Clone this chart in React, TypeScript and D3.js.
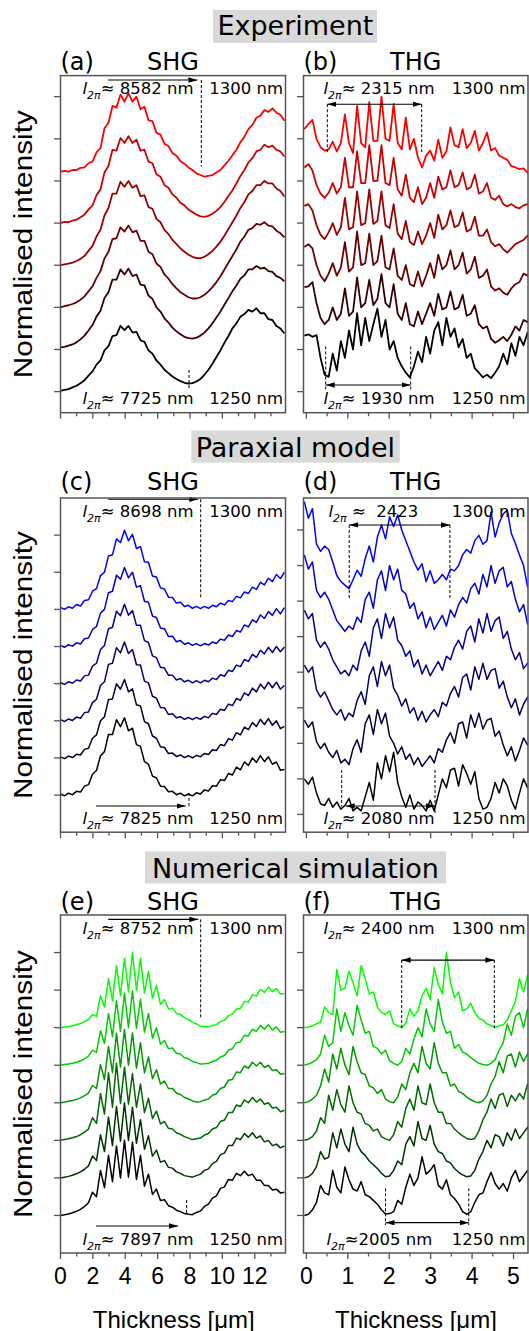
import React from "react";
import * as d3 from "d3";

// ---- sampling grids (µm) ----
const SHG_X0 = 0;
const SHG_DX = 0.247;
const THG_X0 = -0.05;
const THG_DX = 0.098;

const wavelengths = [1250, 1260, 1270, 1280, 1290, 1300];

// curve baselines (stacking offsets, normalised units) 1250 -> 1300
const stackOffsets = [0, 1, 2, 3, 4, 5];
const paraxThgOffsets = [0, 1.25, 2.5, 3.75, 5, 6.25];

// ---- (a) Experiment SHG, 1250..1300 nm ----
const expShg = [
  [0.02,0.04,0.06,0.1,0.14,0.2,0.27,0.38,0.48,0.64,0.74,0.98,1.08,1.32,1.34,1.56,1.46,1.56,1.4,1.42,1.22,1.18,0.98,0.9,0.74,0.64,0.52,0.44,0.36,0.3,0.25,0.21,0.19,0.2,0.24,0.3,0.4,0.52,0.66,0.82,0.98,1.16,1.32,1.5,1.62,1.78,1.84,1.94,1.9,1.98,1.86,1.86,1.72,1.7,1.56,1.5,1.38],
  [0.05,0.06,0.09,0.12,0.17,0.24,0.33,0.45,0.58,0.78,0.92,1.22,1.36,1.66,1.66,1.9,1.78,1.92,1.74,1.78,1.54,1.52,1.28,1.2,1.0,0.9,0.74,0.64,0.52,0.43,0.36,0.3,0.27,0.26,0.28,0.33,0.4,0.5,0.62,0.76,0.9,1.06,1.22,1.38,1.52,1.68,1.76,1.9,1.9,1.98,1.92,1.94,1.86,1.84,1.74,1.7,1.62],
  [0.0,0.03,0.05,0.08,0.12,0.18,0.26,0.38,0.5,0.7,0.86,1.16,1.32,1.62,1.64,1.9,1.8,1.94,1.78,1.82,1.58,1.58,1.32,1.26,1.04,0.96,0.78,0.68,0.55,0.45,0.36,0.3,0.24,0.21,0.21,0.24,0.3,0.38,0.48,0.6,0.74,0.9,1.06,1.22,1.38,1.56,1.68,1.84,1.88,1.98,1.96,2.02,1.94,1.92,1.82,1.76,1.66],
  [0.0,0.02,0.04,0.06,0.1,0.15,0.22,0.34,0.46,0.68,0.84,1.18,1.36,1.7,1.7,1.98,1.86,2.0,1.84,1.9,1.64,1.66,1.38,1.34,1.1,1.02,0.84,0.74,0.6,0.5,0.4,0.32,0.25,0.2,0.17,0.17,0.2,0.26,0.34,0.44,0.56,0.7,0.86,1.02,1.18,1.36,1.5,1.68,1.76,1.9,1.9,2.0,1.94,1.94,1.82,1.76,1.63],
  [0.0,0.03,0.02,0.06,0.08,0.14,0.2,0.32,0.42,0.66,0.8,1.2,1.36,1.74,1.72,2.02,1.9,2.06,1.9,1.98,1.72,1.74,1.46,1.42,1.16,1.1,0.9,0.84,0.68,0.6,0.48,0.42,0.32,0.26,0.2,0.16,0.15,0.17,0.22,0.29,0.38,0.5,0.64,0.78,0.94,1.12,1.26,1.44,1.54,1.7,1.74,1.86,1.8,1.84,1.74,1.7,1.58],
  [0.22,0.24,0.22,0.26,0.26,0.31,0.32,0.42,0.46,0.68,0.78,1.25,1.38,1.78,1.74,2.05,1.88,2.08,1.88,2.0,1.7,1.76,1.44,1.42,1.14,1.1,0.88,0.83,0.66,0.6,0.47,0.41,0.32,0.26,0.18,0.14,0.1,0.12,0.14,0.2,0.26,0.37,0.48,0.61,0.74,0.92,1.05,1.23,1.33,1.5,1.55,1.68,1.64,1.72,1.62,1.57,1.43],
];

// ---- (b) Experiment THG ----
const expThg = [
  [1.33,1.36,1.3,1.34,0.8,0.4,0.35,0.9,0.5,1.2,0.8,1.45,1.0,1.86,1.1,1.75,1.2,1.6,1.97,1.3,1.7,1.0,1.2,0.8,0.6,0.45,0.34,0.6,0.95,0.7,1.3,0.9,1.45,1.65,1.1,1.75,1.3,1.5,1.05,1.25,0.8,0.9,0.55,0.45,0.34,0.4,0.32,0.45,0.6,0.9,0.65,1.15,0.85,1.3,1.1,1.4,1.37],
  [1.48,1.5,1.6,1.1,0.75,0.6,0.7,1.0,0.7,0.85,1.45,0.8,0.9,1.71,1.0,1.1,1.65,1.05,1.2,1.79,1.1,1.0,1.55,0.85,0.7,1.1,0.6,0.55,0.9,0.6,0.85,1.1,0.8,1.32,0.95,1.0,1.38,0.95,1.0,1.3,0.8,0.85,1.05,0.6,0.5,0.55,0.25,0.16,0.22,0.3,0.2,0.35,0.55,0.45,0.7,0.65,0.79],
  [1.43,1.5,1.4,1.0,0.75,0.62,0.8,1.05,0.75,0.95,1.55,0.85,0.95,1.8,1.0,1.05,1.75,1.0,1.1,1.7,0.95,0.9,1.4,0.75,0.65,1.0,0.55,0.5,0.85,0.5,0.75,1.05,0.7,1.25,0.9,1.0,1.35,0.9,1.0,1.3,0.8,0.9,1.2,0.7,0.75,0.9,0.5,0.4,0.45,0.35,0.3,0.45,0.55,0.6,0.8,0.75,0.9],
  [1.41,1.45,1.3,0.95,0.72,0.62,0.78,1.0,0.72,0.9,1.6,0.85,0.9,1.75,0.95,1.0,1.8,0.98,1.05,1.75,0.95,0.88,1.45,0.75,0.62,1.05,0.55,0.48,0.8,0.5,0.7,1.0,0.65,1.2,0.85,0.95,1.3,0.9,0.95,1.25,0.8,0.85,1.15,0.7,0.7,0.85,0.55,0.45,0.5,0.38,0.3,0.4,0.5,0.55,0.6,0.7,0.74],
  [1.32,1.4,1.25,0.9,0.7,0.6,0.72,0.95,0.7,0.85,1.55,0.85,0.85,1.7,0.95,0.95,1.85,1.0,1.0,1.85,0.95,0.9,1.55,0.8,0.65,1.15,0.6,0.5,0.85,0.45,0.6,0.95,0.6,1.1,0.8,0.85,1.25,0.85,0.9,1.2,0.8,0.85,1.15,0.7,0.75,0.95,0.6,0.55,0.65,0.45,0.4,0.45,0.38,0.35,0.42,0.45,0.45],
  [1.23,1.35,1.45,1.0,0.8,0.72,0.75,0.93,0.7,0.9,1.58,0.9,0.66,1.78,0.9,0.8,1.87,0.95,0.95,2.0,1.0,0.95,1.83,0.9,0.75,1.5,0.75,1.0,0.55,0.32,0.6,0.72,0.48,0.98,0.55,0.7,1.27,0.85,0.8,1.23,0.78,0.9,1.19,0.72,0.9,1.15,0.72,0.78,0.6,0.55,0.5,0.35,0.32,0.28,0.3,0.2,0.12],
];

// ---- (c) Paraxial model SHG ----
const parShg = [
  [0.03,-0.02,0.05,0.01,0.1,0.08,0.24,0.28,0.56,0.66,1.06,1.17,1.63,1.63,2.03,1.84,2.08,1.73,1.8,1.36,1.31,0.9,0.83,0.51,0.46,0.24,0.23,0.09,0.1,0.01,0.05,-0.02,0.03,-0.02,0.06,0.03,0.14,0.11,0.25,0.24,0.41,0.39,0.58,0.54,0.75,0.68,0.89,0.8,1.0,0.88,1.06,0.9,1.03,0.83,0.89,0.67,0.69],
  [0.03,-0.02,0.05,0.01,0.1,0.08,0.23,0.26,0.53,0.62,1.0,1.11,1.57,1.59,2.0,1.85,2.11,1.78,1.86,1.43,1.4,0.98,0.92,0.59,0.53,0.3,0.28,0.12,0.13,0.04,0.08,0.01,0.06,0.0,0.07,0.03,0.12,0.09,0.22,0.2,0.36,0.33,0.52,0.48,0.68,0.62,0.83,0.76,0.95,0.85,1.04,0.9,1.06,0.88,1.0,0.79,0.85],
  [0.03,-0.02,0.05,0.01,0.1,0.07,0.22,0.24,0.49,0.58,0.95,1.05,1.52,1.55,1.97,1.83,2.12,1.81,1.92,1.51,1.5,1.07,1.02,0.66,0.61,0.36,0.35,0.17,0.19,0.08,0.11,0.04,0.09,0.03,0.09,0.04,0.12,0.08,0.2,0.17,0.31,0.28,0.45,0.41,0.6,0.55,0.75,0.68,0.88,0.78,0.99,0.86,1.04,0.89,1.04,0.85,0.95],
  [0.03,-0.02,0.05,0.01,0.1,0.07,0.21,0.23,0.47,0.55,0.92,1.03,1.48,1.52,1.95,1.83,2.14,1.84,1.97,1.57,1.57,1.16,1.11,0.75,0.7,0.44,0.42,0.23,0.23,0.1,0.14,0.05,0.09,0.02,0.08,0.02,0.09,0.05,0.15,0.11,0.24,0.2,0.36,0.33,0.5,0.46,0.65,0.6,0.79,0.71,0.9,0.8,0.98,0.84,1.0,0.86,0.99],
  [0.03,-0.02,0.05,0.01,0.1,0.07,0.21,0.23,0.46,0.54,0.9,1.0,1.45,1.49,1.92,1.81,2.13,1.85,2.0,1.6,1.64,1.22,1.19,0.82,0.78,0.5,0.48,0.27,0.28,0.13,0.16,0.06,0.1,0.03,0.08,0.02,0.08,0.04,0.12,0.08,0.2,0.17,0.31,0.27,0.43,0.39,0.58,0.53,0.72,0.65,0.85,0.76,0.94,0.84,1.02,0.88,1.05],
  [0.05,0.0,0.07,0.03,0.13,0.09,0.24,0.26,0.49,0.56,0.91,1.0,1.44,1.47,1.9,1.8,2.13,1.85,2.02,1.64,1.69,1.28,1.27,0.9,0.87,0.58,0.55,0.33,0.32,0.17,0.19,0.08,0.11,0.03,0.08,0.02,0.08,0.03,0.11,0.07,0.17,0.12,0.24,0.21,0.35,0.31,0.47,0.43,0.6,0.54,0.73,0.66,0.84,0.75,0.94,0.83,1.0],
];

// ---- (d) Paraxial model THG ----
const parThg = [
  [1.0,0.85,1.05,0.6,0.3,0.25,0.45,0.2,0.35,0.15,0.25,0.45,0.1,0.2,0.1,0.5,0.9,0.4,1.45,1.0,1.65,1.2,1.75,0.9,0.5,0.2,0.55,0.15,0.35,0.25,0.1,0.4,0.1,0.55,1.0,0.75,1.25,1.3,0.8,1.4,1.15,0.85,1.2,0.45,0.15,0.2,0.45,0.9,0.6,1.0,0.8,0.4,0.15,0.6,1.0,0.75,0.85],
  [1.4,1.2,1.35,0.8,0.6,0.75,0.5,0.35,0.55,0.2,0.3,0.15,0.6,0.85,0.5,1.3,1.55,1.0,1.7,1.3,1.6,0.95,0.75,0.45,0.65,0.3,0.45,0.15,0.35,0.1,0.25,0.4,0.2,0.6,0.5,0.85,1.05,0.75,1.3,1.35,0.9,1.55,1.2,1.6,1.15,1.4,1.45,0.95,1.1,0.7,0.4,0.65,0.25,0.55,0.9,0.7,0.8],
  [1.7,1.5,1.65,1.0,0.8,0.95,0.7,0.45,0.3,0.45,0.15,0.35,0.25,0.7,0.95,0.6,1.4,1.65,1.1,1.8,1.4,1.7,1.05,0.85,0.55,0.75,0.35,0.5,0.15,0.4,0.1,0.3,0.45,0.25,0.65,0.55,0.9,1.1,0.8,1.35,1.45,1.0,1.65,1.3,1.75,1.3,1.55,1.6,1.05,1.25,0.8,0.5,0.75,0.3,0.6,0.8,0.7],
  [2.0,1.75,1.9,1.15,0.95,1.1,0.9,0.6,0.4,0.2,0.3,0.15,0.45,0.3,0.85,1.1,0.7,1.5,1.75,1.2,1.9,1.5,1.8,1.15,1.0,0.7,0.85,0.4,0.6,0.2,0.45,0.15,0.35,0.55,0.3,0.7,0.6,0.95,1.15,0.9,1.4,1.55,1.1,1.75,1.35,1.9,1.4,1.7,1.8,1.2,1.4,0.9,0.6,0.8,0.35,0.5,0.6],
  [2.3,1.9,2.1,1.3,1.1,1.25,1.05,0.75,0.45,0.3,0.15,0.3,0.2,0.55,0.4,1.05,1.25,0.8,1.6,1.85,1.3,2.0,1.6,1.9,1.3,1.2,0.8,0.95,0.5,0.7,0.25,0.55,0.2,0.4,0.6,0.3,0.75,0.55,0.9,1.1,0.95,1.35,1.5,1.2,1.75,1.4,2.0,1.5,1.85,1.95,1.4,1.55,1.05,0.7,0.9,0.35,0.4],
  [2.55,2.08,2.35,1.35,1.15,1.3,1.2,0.85,0.47,0.3,0.2,0.1,0.35,0.62,0.45,0.95,1.3,0.85,1.55,1.89,1.5,2.12,1.85,2.17,1.75,1.45,1.15,0.85,0.62,0.8,0.3,0.6,0.25,0.35,0.5,0.35,0.65,0.6,0.75,1.05,1.2,1.1,1.45,1.6,1.35,1.45,2.25,1.55,1.95,2.2,2.31,1.65,1.37,1.05,0.75,0.15,0.05],
];

// ---- (e) Numerical simulation SHG ----
const numShg = [
  [0.0,0.02,0.04,0.07,0.11,0.16,0.24,0.34,0.62,0.5,1.2,0.74,1.6,0.9,1.85,1.0,2.0,1.02,1.95,0.96,1.6,0.78,1.1,0.56,0.7,0.4,0.42,0.26,0.22,0.14,0.1,0.05,0.03,0.02,0.08,0.12,0.24,0.3,0.46,0.52,0.72,0.76,0.96,0.94,1.12,1.06,1.18,1.06,1.1,0.94,0.94,0.8,0.8,0.68,0.7,0.6,0.62],
  [0.0,0.02,0.04,0.07,0.11,0.16,0.23,0.32,0.58,0.46,1.15,0.7,1.62,0.86,1.9,0.98,2.0,1.0,1.88,0.92,1.55,0.76,1.12,0.58,0.74,0.42,0.46,0.28,0.26,0.16,0.12,0.06,0.04,0.02,0.06,0.1,0.2,0.24,0.38,0.44,0.62,0.66,0.86,0.86,1.06,1.02,1.18,1.08,1.2,1.06,1.12,0.96,1.0,0.86,0.9,0.8,0.85],
  [0.0,0.02,0.04,0.07,0.1,0.15,0.22,0.3,0.6,0.45,1.25,0.7,1.8,0.88,2.05,0.98,1.95,0.96,1.78,0.88,1.5,0.74,1.12,0.58,0.78,0.44,0.5,0.32,0.3,0.2,0.16,0.1,0.06,0.02,0.04,0.06,0.14,0.18,0.3,0.34,0.5,0.54,0.74,0.74,0.94,0.9,1.08,1.0,1.14,1.02,1.1,0.96,1.0,0.86,0.88,0.76,0.8],
  [0.0,0.02,0.04,0.06,0.09,0.13,0.19,0.26,0.46,0.38,1.02,0.62,1.5,0.8,1.85,0.95,1.95,1.0,1.86,0.92,1.6,0.8,1.22,0.64,0.88,0.5,0.58,0.38,0.38,0.26,0.22,0.14,0.1,0.05,0.02,0.03,0.07,0.1,0.2,0.24,0.38,0.42,0.6,0.62,0.82,0.8,0.98,0.92,1.08,0.98,1.08,0.94,1.0,0.86,0.88,0.76,0.78],
  [0.0,0.02,0.03,0.05,0.08,0.12,0.17,0.24,0.4,0.34,0.92,0.58,1.38,0.76,1.72,0.9,1.92,1.0,1.98,0.98,1.76,0.88,1.38,0.72,1.0,0.56,0.66,0.44,0.46,0.32,0.3,0.2,0.17,0.1,0.07,0.03,0.04,0.05,0.1,0.13,0.22,0.26,0.4,0.44,0.6,0.62,0.8,0.78,0.96,0.9,1.06,0.96,1.08,0.94,1.02,0.88,0.9],
  [0.0,0.02,0.03,0.05,0.08,0.11,0.16,0.22,0.35,0.3,0.85,0.55,1.3,0.72,1.65,0.85,1.85,0.95,2.0,1.0,1.85,0.92,1.5,0.78,1.12,0.62,0.75,0.5,0.52,0.38,0.36,0.26,0.22,0.14,0.1,0.04,0.03,0.02,0.06,0.08,0.16,0.2,0.32,0.36,0.5,0.52,0.7,0.68,0.88,0.84,1.02,0.94,1.08,0.96,1.04,0.9,0.9],
];

// ---- (f) Numerical simulation THG ----
const numThg = [
  [0.0,0.03,0.15,0.35,0.8,0.6,0.55,1.2,0.75,0.6,1.29,0.95,0.7,0.65,0.9,0.55,0.5,0.4,0.3,0.15,0.04,0.05,0.1,0.4,0.3,0.75,1.1,0.8,1.0,1.56,1.1,1.2,1.35,0.8,0.7,0.95,0.55,0.45,0.3,0.1,0.03,0.1,0.35,0.55,0.6,0.9,1.15,0.85,0.7,0.85,0.65,1.0,1.2,0.9,1.05,1.2,1.1],
  [0.0,0.03,0.12,0.3,0.7,0.5,0.55,1.2,0.8,1.3,0.9,0.7,1.35,0.9,0.7,0.6,0.45,0.35,0.25,0.12,0.03,0.05,0.2,0.45,0.35,0.9,1.1,0.85,1.5,1.05,1.0,1.4,0.9,0.7,0.65,0.45,0.4,0.25,0.15,0.08,0.03,0.05,0.2,0.5,0.7,1.0,0.8,1.15,1.1,0.85,1.2,1.0,1.3,1.05,1.2,1.35,1.25],
  [0.0,0.03,0.1,0.25,0.6,0.45,1.2,0.8,1.35,0.95,0.75,1.45,1.0,0.75,0.7,0.45,0.4,0.25,0.3,0.1,0.04,0.0,0.15,0.5,0.35,0.85,1.1,0.8,1.45,1.0,0.95,1.5,1.0,0.75,0.75,0.45,0.45,0.3,0.2,0.12,0.05,0.02,0.05,0.25,0.55,0.75,1.1,0.85,1.2,1.25,0.9,1.2,1.05,1.25,1.1,1.5,1.3],
  [0.0,0.03,0.1,0.2,0.45,0.9,0.55,1.3,0.9,1.45,1.0,0.75,1.5,1.1,0.8,0.75,0.45,0.4,0.25,0.35,0.1,0.03,0.0,0.15,0.5,0.35,0.8,1.05,0.8,1.5,1.05,0.9,1.6,1.05,0.8,0.8,0.45,0.5,0.3,0.25,0.15,0.08,0.03,0.0,0.05,0.2,0.5,0.7,1.1,0.8,1.25,1.3,0.95,1.35,1.1,1.3,1.35],
  [0.0,0.03,0.08,0.15,0.3,0.8,0.5,0.6,1.5,0.9,1.4,1.05,0.8,1.6,1.2,0.85,0.9,0.5,0.45,0.3,0.4,0.12,0.05,0.0,0.1,0.45,0.3,0.7,1.0,0.75,1.5,1.1,0.9,1.75,1.15,0.85,0.9,0.45,0.55,0.35,0.3,0.2,0.12,0.05,0.02,0.0,0.05,0.15,0.4,0.6,1.1,0.8,1.3,1.4,1.0,1.5,1.55],
  [0.0,0.02,0.05,0.1,0.15,0.55,0.4,0.35,1.55,1.0,1.05,1.5,1.2,0.85,1.65,1.3,0.9,0.95,0.55,0.4,0.35,0.45,0.1,0.05,0.0,0.12,0.5,0.3,0.45,0.85,1.05,0.75,1.6,1.15,0.9,2.0,1.2,0.8,0.95,0.45,0.5,0.65,0.4,0.25,0.2,0.1,0.05,0.0,0.05,0.08,0.2,0.45,0.7,1.3,0.95,1.4,1.5],
];

// ---- layout ----
const ROWS = [
  { top: 75.6, bottom: 412.7, tagY: 70, title: "Experiment", titleY: 35.4, box: [213, 10, 164, 33] },
  { top: 498, bottom: 832.2, tagY: 490, title: "Paraxial model", titleY: 457, box: [191.3, 430.6, 208.5, 32] },
  { top: 915, bottom: 1253, tagY: 909.5, title: "Numerical simulation", titleY: 878.4, box: [145, 851.4, 301, 32] },
];

const COLS = [
  { left: 60.5, right: 285.5, domain: [0, 13.9], x0: SHG_X0, dx: SHG_DX, ticks: d3.range(0, 14, 1), isMajor: (t: number) => t % 2 === 0, name: "SHG", axisX: 173.8 },
  { left: 303.5, right: 528, domain: [-0.07, 5.35], x0: THG_X0, dx: THG_DX, ticks: d3.range(0, 5.5, 0.5), isMajor: (t: number) => Number.isInteger(t), name: "THG", axisX: 415.9 },
];

type Arrow = { x1: number; x2: number; y: number; both: boolean };
type Panel = {
  tag: string; row: number; col: number; series: number[][]; offsets: number[];
  yDomain: [number, number]; yTicks: number[]; hue: string; lw: number;
  topText: string; topLead: number; botText: string; botLead: number;
  arrows: Arrow[]; guides: [number, number, number][];
};

const PANELS: Panel[] = [
  { tag: "(a)", row: 0, col: 0, series: expShg, offsets: stackOffsets, yDomain: [-0.5, 7.5], yTicks: d3.range(0, 8), hue: "#ff0000", lw: 1.8,
    topText: "≈ 8582 nm", topLead: 22, botText: "≈ 7725 nm", botLead: 22,
    arrows: [{ x1: 2.93, x2: 8.46, y: 7.395, both: false }],
    guides: [[8.7, 7.395, 5.34], [7.94, 0.513, 0.086]] },
  { tag: "(b)", row: 0, col: 1, series: expThg, offsets: stackOffsets, yDomain: [-0.5, 7.5], yTicks: d3.range(0, 8), hue: "#ff0000", lw: 1.8,
    topText: "≈ 2315 nm", topLead: 20, botText: "≈ 1930 nm", botLead: 20,
    arrows: [{ x1: 0.505, x2: 2.783, y: 6.82, both: true }, { x1: 0.466, x2: 2.518, y: 0.157, both: true }],
    guides: [[0.505, 6.82, 5.687], [2.783, 6.82, 5.687], [0.466, 1.073, 0.04], [2.518, 1.073, 0.04]] },
  { tag: "(c)", row: 1, col: 0, series: parShg, offsets: stackOffsets, yDomain: [-1, 8], yTicks: d3.range(0, 8), hue: "#0000ff", lw: 1.5,
    topText: "≈ 8698 nm", topLead: 22, botText: "≈ 7825 nm", botLead: 22,
    arrows: [{ x1: 2.95, x2: 8.51, y: 7.966, both: false }, { x1: 2.2, x2: 7.73, y: -0.294, both: false }],
    guides: [[8.66, 7.966, 5.3], [7.94, 0.056, -0.35]] },
  { tag: "(d)", row: 1, col: 1, series: parThg, offsets: paraxThgOffsets, yDomain: [-0.5, 8.9], yTicks: d3.range(0, 9), hue: "#0000ff", lw: 1.5,
    topText: " ≈  2423", topLead: 25, botText: "≈ 2080 nm", botLead: 20,
    arrows: [{ x1: 1.034, x2: 3.465, y: 8.141, both: true }, { x1: 0.949, x2: 3.107, y: 0.237, both: true }],
    guides: [[1.034, 8.141, 6.03], [3.465, 8.141, 6.03], [0.852, 1.25, 0.217], [3.105, 1.25, 0.04]] },
  { tag: "(e)", row: 2, col: 0, series: numShg, offsets: stackOffsets, yDomain: [-1, 8], yTicks: d3.range(0, 8), hue: "#00ff00", lw: 1.5,
    topText: "≈ 8752 nm", topLead: 22, botText: "≈ 7897 nm", botLead: 22,
    arrows: [{ x1: 2.95, x2: 8.51, y: 7.885, both: false }, { x1: 2.2, x2: 7.26, y: -0.281, both: false }],
    guides: [[8.66, 7.885, 5.25], [7.79, 0.411, 0.052]] },
  { tag: "(f)", row: 2, col: 1, series: numThg, offsets: stackOffsets, yDomain: [-1, 8], yTicks: d3.range(0, 8), hue: "#00ff00", lw: 1.5,
    topText: "≈ 2400 nm", topLead: 20, botText: "≈2005 nm", botLead: 23,
    arrows: [{ x1: 2.301, x2: 4.537, y: 6.8, both: true }, { x1: 1.91, x2: 3.92, y: -0.193, both: true }],
    guides: [[2.301, 6.8, 4.937], [4.537, 6.8, 4.937], [1.91, 0.723, -0.255], [3.92, 0.723, -0.255]] },
];

const AXIS = "#555";

function L2pi({ x, y, rest }: { x: number; y: number; rest: string }) {
  return (
    <text x={x} y={y} fontSize={16.5} style={{ whiteSpace: "pre" }}>
      <tspan fontStyle="italic">l</tspan>
      <tspan fontSize={11} fontStyle="italic" dy={5}>2π</tspan>
      <tspan dy={-5}>{rest}</tspan>
    </text>
  );
}

function PanelView({ p, id }: { p: Panel; id: string }) {
  const row = ROWS[p.row];
  const col = COLS[p.col];
  const x = d3.scaleLinear().domain(col.domain).range([col.left, col.right]);
  const y = d3.scaleLinear().domain(p.yDomain).range([row.bottom, row.top]);
  const tint = d3.interpolateRgb("#000000", p.hue);
  const n = p.series.length;
  const clip = `clip-${id}`;
  const mid = (col.left + col.right) / 2;

  return (
    <g>
      <defs>
        <clipPath id={clip}>
          <rect x={col.left} y={row.top} width={col.right - col.left} height={row.bottom - row.top} />
        </clipPath>
      </defs>
      <text x={col.left} y={row.tagY} fontSize={24}>{p.tag}</text>
      <text x={mid} y={row.tagY} fontSize={24} textAnchor="middle">{col.name}</text>

      <g clipPath={`url(#${clip})`}>
        {p.series.map((vals, k) => {
          const line = d3.line<number>()
            .x((_, i) => x(col.x0 + i * col.dx))
            .y((v) => y(p.offsets[k] + v));
          return (
            <path key={wavelengths[k]} d={line(vals) ?? ""} fill="none"
              stroke={tint(k / (n - 1))} strokeWidth={p.lw} strokeLinejoin="round" />
          );
        })}
      </g>

      {p.guides.map(([gx, y1, y2], i) => (
        <line key={`g${i}`} x1={x(gx)} x2={x(gx)} y1={y(y1)} y2={y(y2)} stroke="#000" strokeWidth={1} strokeDasharray="3,2" />
      ))}
      {p.arrows.map((a, i) => (
        <line key={`a${i}`} x1={x(a.x1)} x2={x(a.x2)} y1={y(a.y)} y2={y(a.y)} stroke="#000" strokeWidth={1.2}
          markerEnd="url(#ah)" markerStart={a.both ? "url(#ah)" : undefined} />
      ))}

      <L2pi x={col.left + p.topLead} y={row.top + 18.5} rest={p.topText} />
      <text x={col.right - 2.5} y={row.top + 18.5} fontSize={16.5} textAnchor="end">1300 nm</text>
      <L2pi x={col.left + p.botLead} y={row.bottom - 8.5} rest={p.botText} />
      <text x={col.right - 2.5} y={row.bottom - 8.5} fontSize={16.5} textAnchor="end">1250 nm</text>

      <rect x={col.left} y={row.top} width={col.right - col.left} height={row.bottom - row.top}
        fill="none" stroke={AXIS} strokeWidth={1.5} />
      {p.yTicks.map((t) => (
        <line key={`yt${t}`} x1={col.left - 6.5} x2={col.left} y1={y(t)} y2={y(t)} stroke={AXIS} strokeWidth={1.3} />
      ))}
      {col.ticks.map((t) => (
        <line key={`xt${t}`} x1={x(t)} x2={x(t)} y1={row.bottom} y2={row.bottom + (col.isMajor(t) ? 6 : 3.5)} stroke={AXIS} strokeWidth={1.3} />
      ))}
    </g>
  );
}

export default function App() {
  const bottom = ROWS[2];
  return (
    <svg width={529} height={1331} viewBox="0 0 529 1331"
      style={{ position: "absolute", left: 0, top: 0, background: "#fff" }}
      fontFamily="'DejaVu Sans', sans-serif">
      <defs>
        <marker id="ah" viewBox="0 0 10 6" refX="10" refY="3" markerWidth="9" markerHeight="5.5"
          markerUnits="userSpaceOnUse" orient="auto-start-reverse">
          <path d="M0,0 L10,3 L0,6 z" fill="#000" />
        </marker>
      </defs>
      <rect x={0} y={0} width={529} height={1331} fill="#fff" />

      {ROWS.map((r) => (
        <g key={r.title}>
          <rect x={r.box[0]} y={r.box[1]} width={r.box[2]} height={r.box[3]} fill="#d9d9d9" />
          <text x={295.4} y={r.titleY} fontSize={27} textAnchor="middle">{r.title}</text>
          <text transform={`translate(32,${(r.top + r.bottom) / 2}) rotate(-90)`} textAnchor="middle"
            fontSize={26} textLength={268} lengthAdjust="spacingAndGlyphs"
            fontFamily="'Liberation Sans', Arial, sans-serif">Normalised intensity</text>
        </g>
      ))}

      {PANELS.map((p) => <PanelView key={p.tag} p={p} id={p.tag.replace(/[()]/g, "")} />)}

      {COLS.map((c) => {
        const x = d3.scaleLinear().domain(c.domain).range([c.left, c.right]);
        const labels = c.ticks.filter((t) => (c.name === "SHG" ? t % 2 === 0 : Number.isInteger(t)));
        return (
          <g key={c.name} fontFamily="'Liberation Sans', Arial, sans-serif">
            {labels.map((t) => (
              <text key={t} x={x(t)} y={1284.4} fontSize={23} textAnchor="middle">{t}</text>
            ))}
            <text x={c.axisX} y={bottom.bottom + 74.5} fontSize={24} textAnchor="middle">Thickness [μm]</text>
          </g>
        );
      })}
    </svg>
  );
}
